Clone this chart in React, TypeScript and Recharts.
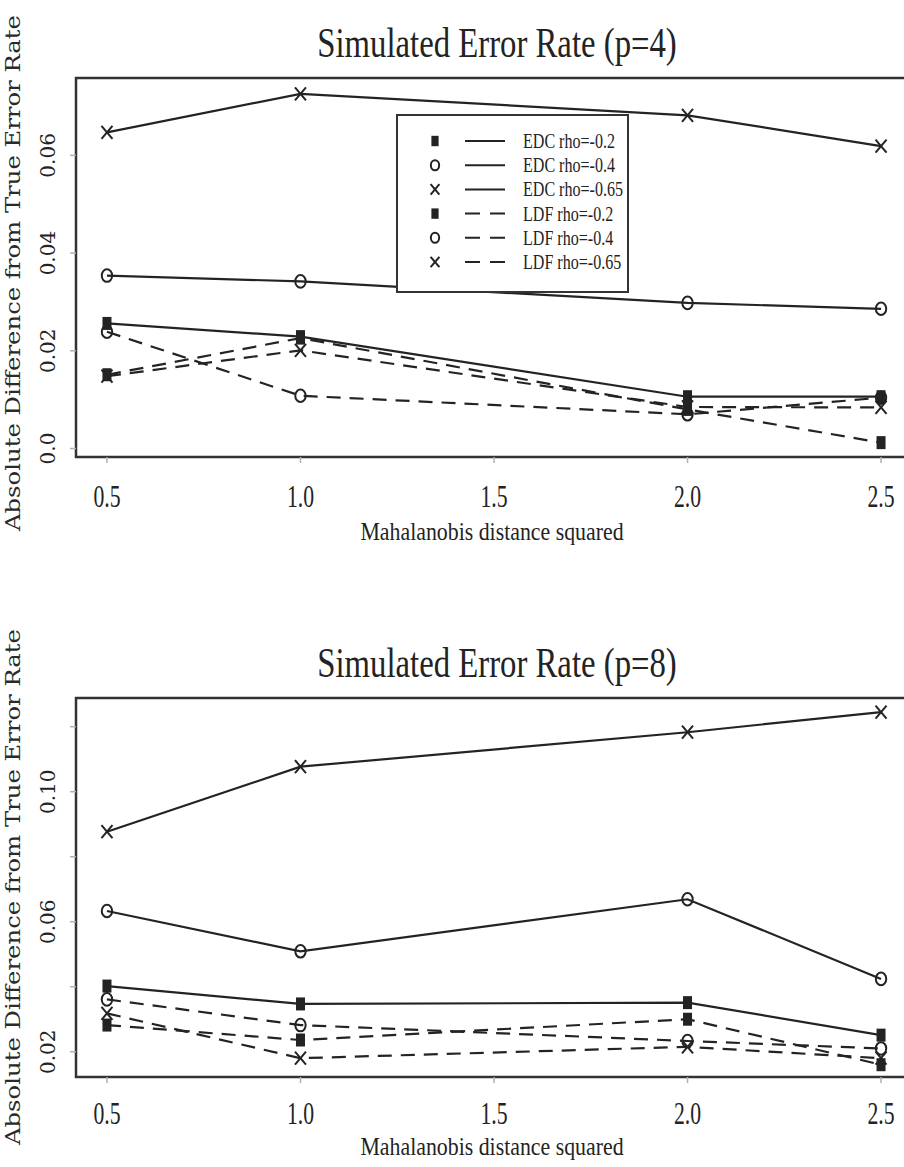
import React from "react";
import { LineChart, Line, XAxis, YAxis, ReferenceArea } from "recharts";

// ---------- data ----------
const xValues = [0.5, 1.0, 2.0, 2.5];
const xTicks = [0.5, 1.0, 1.5, 2.0, 2.5];
const xTickLabels = ["0.5", "1.0", "1.5", "2.0", "2.5"];

const seriesNames = [
  "EDC rho=-0.2",
  "EDC rho=-0.4",
  "EDC rho=-0.65",
  "LDF rho=-0.2",
  "LDF rho=-0.4",
  "LDF rho=-0.65",
];
const seriesMarkers = ["square", "circle", "cross", "square", "circle", "cross"];
const seriesDashed = [false, false, false, true, true, true];

const xAxisTitle = "Mahalanobis distance squared";
const yAxisTitle = "Absolute Difference from True Error Rate";

// p = 4
const p4Title = "Simulated Error Rate (p=4)";
const p4EdcRho02 = [0.0256, 0.0229, 0.0106, 0.0106];
const p4EdcRho04 = [0.0354, 0.0342, 0.0298, 0.0286];
const p4EdcRho065 = [0.0647, 0.0726, 0.0682, 0.0619];
const p4LdfRho02 = [0.0151, 0.0226, 0.008, 0.0012];
const p4LdfRho04 = [0.0239, 0.0108, 0.007, 0.0104];
const p4LdfRho065 = [0.0148, 0.0201, 0.0085, 0.0084];
const p4YDomain = [-0.00174, 0.07584];
const p4YTicks = [0, 0.02, 0.04, 0.06];
const p4YTickLabels = ["0.0", "0.02", "0.04", "0.06"];

// p = 8
const p8Title = "Simulated Error Rate (p=8)";
const p8EdcRho02 = [0.0402, 0.0347, 0.0351, 0.0251];
const p8EdcRho04 = [0.0633, 0.0509, 0.0669, 0.0424];
const p8EdcRho065 = [0.0877, 0.1077, 0.1183, 0.1245];
const p8LdfRho02 = [0.0282, 0.0236, 0.03, 0.016];
const p8LdfRho04 = [0.0361, 0.0282, 0.0233, 0.021];
const p8LdfRho065 = [0.0318, 0.018, 0.0215, 0.018];
const p8YDomain = [0.01222, 0.12883];
const p8YTicks = [0.02, 0.04, 0.06, 0.08, 0.1, 0.12];
const p8YTickLabels = ["0.02", "", "0.06", "", "0.10", ""];

// ---------- styling ----------
const INK = "#232323";
const SERIF = "'Liberation Serif', 'Times New Roman', serif";
const WIDE_SERIF = "'DejaVu Serif', serif";
const X_DOMAIN = [0.42, 2.58];

function CText(props: any) {
  const { x, y, size, sx, anchor = "middle", children, fill = INK } = props;
  return (
    <text
      transform={`translate(${x},${y}) scale(${sx},1)`}
      textAnchor={anchor}
      fontFamily={SERIF}
      fontSize={size}
      fill={fill}
    >
      {children}
    </text>
  );
}

function Marker(props: any) {
  const { kind, cx, cy, s = 1 } = props;
  if (cx == null || cy == null) return <g />;
  if (kind === "square") {
    const w = 9 * s;
    const h = 13 * s;
    return <rect x={cx - w / 2} y={cy - h / 2} width={w} height={h} fill={INK} />;
  }
  if (kind === "circle") {
    return (
      <ellipse cx={cx} cy={cy} rx={5.2 * s} ry={6.3 * s} fill="none" stroke={INK} strokeWidth={2} />
    );
  }
  const dx = 5.5 * s;
  const dy = 6.5 * s;
  return (
    <g stroke={INK} strokeWidth={2}>
      <line x1={cx - dx} y1={cy - dy} x2={cx + dx} y2={cy + dy} />
      <line x1={cx - dx} y1={cy + dy} x2={cx + dx} y2={cy - dy} />
    </g>
  );
}

function Panel(props: any) {
  const {
    title,
    series,
    yDomain,
    yTicks,
    yTickLabels,
    top,
    tickBaseline,
    labelBaseline,
    yTitleCenter,
    showLegend,
  } = props;

  const data = xValues.map((x, i) => {
    const row: any = { x };
    series.forEach((s: number[], j: number) => {
      row["s" + j] = s[i];
    });
    return row;
  });

  const XTick = (tp: any) => {
    const i = xTicks.findIndex((t) => Math.abs(t - tp.payload.value) < 1e-9);
    return (
      <CText x={tp.x} y={tickBaseline} size={31} sx={0.7}>
        {xTickLabels[i]}
      </CText>
    );
  };
  const YTick = (tp: any) => {
    const i = yTicks.findIndex((t: number) => Math.abs(t - tp.payload.value) < 1e-9);
    return (
      <text
        transform={`translate(55,${tp.y}) rotate(-90)`}
        textAnchor="middle"
        fontFamily={WIDE_SERIF}
        fontSize={20}
        fill={INK}
      >
        {yTickLabels[i]}
      </text>
    );
  };

  return (
    <div style={{ position: "absolute", left: 0, top, width: 912, height: 547 }}>
      <LineChart width={912} height={547} data={data} margin={{ top: 78, right: 0, bottom: 0, left: 0 }}>
        <XAxis
          dataKey="x"
          type="number"
          domain={X_DOMAIN}
          ticks={xTicks}
          allowDataOverflow
          interval={0}
          axisLine={false}
          tickLine={{ stroke: "#b0b0b0", strokeWidth: 1.5 }}
          tickSize={6}
          height={90}
          tick={XTick}
        />
        <YAxis
          type="number"
          domain={yDomain}
          ticks={yTicks}
          allowDataOverflow
          interval={0}
          width={76}
          axisLine={false}
          tickLine={{ stroke: "#b0b0b0", strokeWidth: 1.5 }}
          tickSize={6}
          tick={YTick}
        />
        <ReferenceArea
          x1={X_DOMAIN[0]}
          x2={X_DOMAIN[1]}
          y1={yDomain[0]}
          y2={yDomain[1]}
          fill="none"
          fillOpacity={0}
          stroke="#333"
          strokeWidth={2.5}
          ifOverflow="visible"
        />
        {series.map((_: any, j: number) => (
          <Line
            key={j}
            type="linear"
            dataKey={"s" + j}
            name={seriesNames[j]}
            stroke={INK}
            strokeWidth={2.2}
            strokeDasharray={seriesDashed[j] ? "14 9" : undefined}
            isAnimationActive={false}
            activeDot={false}
            dot={(dp: any) => (
              <Marker key={`m-${j}-${dp.index}`} kind={seriesMarkers[j]} cx={dp.cx} cy={dp.cy} />
            )}
          />
        ))}
      </LineChart>
      <svg
        width={912}
        height={547}
        style={{ position: "absolute", left: 0, top: 0, pointerEvents: "none" }}
      >
        <CText x={497} y={57} size={42} sx={0.78}>
          {title}
        </CText>
        <CText x={492} y={labelBaseline} size={26} sx={0.84}>
          {xAxisTitle}
        </CText>
        <text
          transform={`translate(20,${yTitleCenter}) rotate(-90)`}
          textAnchor="middle"
          fontFamily={WIDE_SERIF}
          fontSize={20}
          fill="#2a2a2a"
          textLength={516}
          lengthAdjust="spacingAndGlyphs"
        >
          {yAxisTitle}
        </text>
        {showLegend && (
          <g>
            <rect x={397} y={115} width={231} height={177} fill="#fff" stroke="#333" strokeWidth={2} />
            {seriesNames.map((name, j) => {
              const cy = 141 + j * 24.2;
              return (
                <g key={name}>
                  <Marker kind={seriesMarkers[j]} cx={435} cy={cy} s={0.8} />
                  <line
                    x1={465}
                    x2={505}
                    y1={cy}
                    y2={cy}
                    stroke={INK}
                    strokeWidth={2}
                    strokeDasharray={seriesDashed[j] ? "15 10" : undefined}
                  />
                  <CText x={523} y={cy + 7} size={22} sx={0.73} anchor="start">
                    {name}
                  </CText>
                </g>
              );
            })}
          </g>
        )}
      </svg>
    </div>
  );
}

export default function App() {
  return (
    <div
      style={{
        position: "absolute",
        left: 0,
        top: 0,
        width: 904,
        height: 1167,
        overflow: "hidden",
        background: "#fff",
      }}
    >
      <Panel
        title={p4Title}
        series={[p4EdcRho02, p4EdcRho04, p4EdcRho065, p4LdfRho02, p4LdfRho04, p4LdfRho065]}
        yDomain={p4YDomain}
        yTicks={p4YTicks}
        yTickLabels={p4YTickLabels}
        top={0}
        tickBaseline={507}
        labelBaseline={540}
        yTitleCenter={273}
        showLegend={true}
      />
      <Panel
        title={p8Title}
        series={[p8EdcRho02, p8EdcRho04, p8EdcRho065, p8LdfRho02, p8LdfRho04, p8LdfRho065]}
        yDomain={p8YDomain}
        yTicks={p8YTicks}
        yTickLabels={p8YTickLabels}
        top={620}
        tickBaseline={504}
        labelBaseline={535}
        yTitleCenter={267}
        showLegend={false}
      />
    </div>
  );
}
